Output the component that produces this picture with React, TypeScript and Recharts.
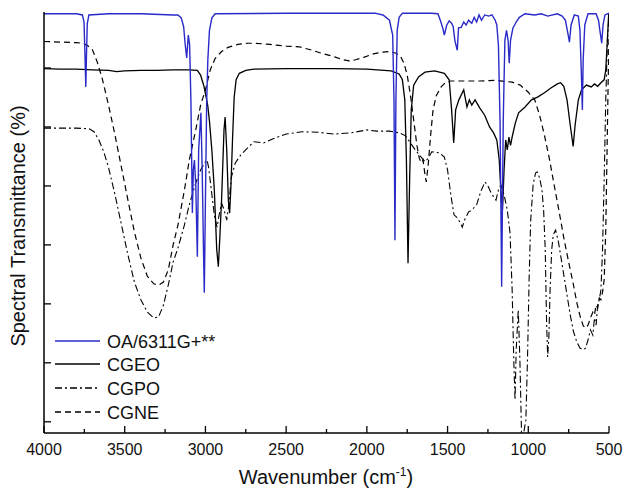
import { LineChart, Line, XAxis, YAxis } from 'recharts';

// [wavenumber (cm-1), transmittance (arbitrary, offset traces)]
const oa6311: [number, number][] = [
  [4000, 69.2], [3800, 69.2], [3762, 69.0], [3752, 67.8], [3746, 62], [3741, 56.8], [3737, 62], [3732, 67.5],
  [3722, 69], [3600, 69.2], [3400, 69.2], [3200, 69.0], [3170, 69.0], [3150, 68.5], [3135, 67], [3125, 63.9],
  [3116, 61.7], [3106, 65.6], [3098, 63.9], [3090, 54.6], [3081, 35.4], [3075, 42.7], [3068, 44.4], [3060, 40.2],
  [3050, 28], [3042, 46.1], [3028, 52.4], [3020, 42.7], [3012, 29.2], [3007, 21.9], [3000, 37.6], [2992, 54.6],
  [2985, 61.4], [2975, 66.4], [2960, 68.5], [2940, 69.2], [2500, 69.3], [2000, 69.3], [1950, 69.3], [1900, 69.0],
  [1860, 68.1], [1840, 65.6], [1832, 54.6], [1826, 30.8], [1820, 54.6], [1812, 66.4], [1800, 68.6], [1780, 69.3],
  [1600, 69.3], [1560, 69.2], [1545, 68.1], [1530, 66.8], [1520, 65.6], [1505, 67.3], [1490, 68], [1475, 67.6],
  [1465, 67], [1455, 64.7], [1440, 63], [1432, 66.8], [1415, 66.9], [1400, 67.8], [1385, 67.3], [1370, 68.1],
  [1350, 67.6], [1335, 68.6], [1320, 67.8], [1305, 69], [1290, 68.1], [1270, 69], [1245, 68.8], [1225, 69],
  [1205, 68.1], [1195, 67.3], [1185, 63.9], [1175, 51.2], [1165, 22.9], [1155, 51.2], [1145, 64.7], [1135, 66.4],
  [1125, 64.7], [1118, 60.8], [1110, 64.7], [1095, 66.8], [1075, 67.8], [1055, 68.6], [1020, 69.2], [960, 69],
  [920, 69.2], [880, 68.8], [820, 69.2], [790, 68.8], [770, 68.1], [755, 65.9], [745, 64.4], [735, 67.3],
  [715, 69], [690, 68.8], [680, 66.4], [670, 58], [665, 52.9], [660, 61.4], [650, 67.3], [630, 69.2],
  [580, 69.2], [565, 68.1], [555, 66.1], [545, 64.2], [537, 67.3], [525, 69], [500, 69.3],
];

const cgeo: [number, number][] = [
  [4000, 59.9], [3900, 59.8], [3800, 59.8], [3700, 59.7], [3600, 59.6], [3550, 59.4], [3500, 59.5], [3400, 59.6],
  [3300, 59.6], [3200, 59.7], [3100, 59.7], [3050, 59.6], [3030, 58.8], [3010, 57], [2995, 55], [2985, 53.5],
  [2975, 51], [2960, 46], [2945, 39.3], [2930, 29.2], [2920, 26.3], [2910, 31.7], [2900, 37.6], [2885, 49.5],
  [2878, 51.7], [2868, 46.1], [2858, 37.6], [2850, 35.4], [2842, 40], [2832, 48], [2822, 55], [2810, 58],
  [2790, 59.1], [2750, 59.6], [2700, 59.8], [2500, 59.9], [2200, 59.9], [2000, 59.8], [1850, 59.5], [1800, 59],
  [1780, 58], [1765, 54.6], [1755, 44.4], [1745, 26.9], [1735, 41], [1725, 52.9], [1710, 57.1], [1680, 58.5],
  [1640, 59.3], [1580, 59.5], [1520, 59.1], [1490, 58], [1475, 52.9], [1462, 47.3], [1450, 52.9], [1430, 54.6],
  [1400, 56.3], [1380, 53.4], [1365, 54.6], [1350, 53.7], [1330, 54.6], [1300, 53.2], [1270, 52], [1240, 50],
  [1215, 49], [1195, 47.8], [1180, 44.4], [1170, 39.3], [1160, 35.9], [1150, 42.7], [1140, 47.8], [1130, 46.1],
  [1120, 48.3], [1110, 46.9], [1100, 48.3], [1080, 50.7], [1060, 52.4], [1020, 53.4], [980, 54.6], [940, 55.1],
  [900, 55.8], [860, 56.6], [820, 57.3], [800, 57.5], [780, 56.9], [760, 54.6], [740, 50.3], [722, 46.7],
  [710, 50.3], [690, 54.6], [670, 56.3], [640, 57.1], [610, 56.8], [590, 57.3], [570, 56.9], [550, 57.5],
  [530, 58], [520, 59.7], [510, 64.7], [502, 69.2],
];

const cgpo: [number, number][] = [
  [4000, 49.8], [3800, 49.8], [3720, 49.7], [3690, 49.2], [3660, 47.8], [3630, 45.8], [3600, 43.1], [3560, 38.5],
  [3520, 33.4], [3480, 28.3], [3440, 23.7], [3400, 20.7], [3360, 18.6], [3320, 17.6], [3290, 17.8], [3260, 19.8],
  [3230, 23.2], [3200, 27.1], [3170, 29.5], [3130, 33.4], [3100, 36.8], [3060, 40.5], [3030, 42.7], [3000, 44.1],
  [2990, 44.4], [2980, 43.1], [2960, 38.5], [2945, 35.1], [2928, 33], [2915, 35.1], [2900, 37.1], [2885, 36],
  [2868, 34.2], [2855, 36.8], [2840, 41.4], [2815, 43.9], [2780, 45.3], [2740, 46.4], [2700, 47.5], [2640, 47.3],
  [2580, 48], [2500, 48.8], [2400, 49.2], [2300, 49.1], [2200, 48.8], [2100, 49], [2000, 49.5], [1940, 49.3],
  [1860, 49.3], [1800, 49], [1760, 48.5], [1730, 47.3], [1700, 46.1], [1670, 45.1], [1640, 44.1], [1620, 44.7],
  [1598, 45.8], [1550, 45.6], [1520, 44.9], [1500, 42.7], [1480, 38.5], [1460, 35.1], [1440, 34.6], [1420, 33.7],
  [1409, 33], [1395, 34.2], [1370, 35.6], [1350, 35.9], [1320, 36.8], [1295, 39], [1268, 40.7], [1250, 40],
  [1230, 38.8], [1200, 37.6], [1185, 39.3], [1170, 40.2], [1150, 38.5], [1130, 35.9], [1113, 32], [1100, 22.4],
  [1090, 10.5], [1082, 3.7], [1075, 12.2], [1062, 19], [1052, 10.5], [1042, -1.8], [1028, -1.8], [1015, 0.3],
  [1005, 10.5], [995, 24.1], [985, 34.2], [970, 40.2], [955, 42.2], [945, 42.4], [930, 41.4], [915, 39.3],
  [905, 35.9], [895, 29.2], [887, 17.3], [880, 11], [872, 14.7], [865, 22.4], [855, 29.2], [845, 31.7],
  [831, 32.5], [815, 30.8], [800, 28.3], [780, 24.9], [760, 21.5], [740, 18.1], [720, 15.3], [700, 13.6],
  [680, 12.5], [660, 12.2], [645, 12.5], [630, 13.9], [615, 15.6], [600, 14.7], [590, 17.6], [580, 16.4],
  [570, 19.8], [560, 20.7], [550, 22.4], [540, 29.2], [530, 41], [520, 54.6], [510, 64.7], [502, 68.1],
];

const cgne: [number, number][] = [
  [4000, 64.5], [3900, 64.4], [3800, 64.3], [3760, 64.2], [3730, 63.8], [3700, 63.1], [3670, 61], [3640, 58.3],
  [3600, 53.7], [3560, 48.6], [3520, 43.1], [3480, 37.6], [3440, 32.2], [3400, 27.8], [3360, 24.7], [3320, 23.4],
  [3290, 23.2], [3260, 23.7], [3230, 25.8], [3200, 30], [3170, 33.4], [3130, 39.3], [3100, 44.4], [3060, 49.5],
  [3030, 53.7], [3000, 56.3], [2970, 59.7], [2940, 61.6], [2900, 62.8], [2860, 63.5], [2800, 64], [2740, 64.2],
  [2690, 64.2], [2600, 64], [2500, 63.7], [2420, 63.6], [2350, 63.1], [2280, 62.5], [2200, 61.9], [2150, 61.4],
  [2110, 61.2], [2070, 61.4], [2020, 61.8], [1960, 62.4], [1900, 62.7], [1860, 62.8], [1820, 62.5], [1790, 61.9],
  [1770, 60.8], [1750, 58.8], [1730, 55.4], [1710, 51.2], [1690, 46.9], [1675, 44.7], [1662, 43.9], [1652, 44.4],
  [1640, 41.9], [1632, 40.7], [1620, 43.6], [1605, 48.6], [1590, 52.9], [1570, 55.3], [1540, 56.8], [1510, 57.6],
  [1480, 57.8], [1400, 57.8], [1300, 57.8], [1200, 57.9], [1100, 57.6], [1050, 57.1], [1000, 55.9], [960, 54.6],
  [930, 52], [900, 48.6], [870, 44.7], [840, 40.2], [810, 35.8], [780, 31.2], [750, 27.1], [720, 23.2],
  [700, 20.3], [680, 18], [660, 16.3], [645, 15.9], [630, 16.4], [615, 17.6], [600, 18.6], [590, 18.1],
  [580, 19.8], [570, 19.3], [560, 21], [550, 20.7], [540, 22], [530, 24.1], [520, 32.5], [512, 46.1],
  [505, 58], [500, 65.6],
];

const xTicks = [4000, 3750, 3500, 3250, 3000, 2750, 2500, 2250, 2000, 1750, 1500, 1250, 1000, 750, 500];
const yTicks = [0, 10, 20, 30, 40, 50, 60];

const FONT = "'Liberation Sans', Arial, sans-serif";

const toRows = (pts: [number, number][]) => pts.map(([w, t]) => ({ w, t }));

// ticks point inward, labels only on the 500 steps
const XTick = ({ x, y, payload }: any) => {
  const major = payload.value % 500 === 0;
  return (
    <g>
      <line x1={x} x2={x} y1={y} y2={y - (major ? 7 : 4)} stroke='#000' strokeWidth={1.3} />
      {major && (
        <text x={x} y={y + 22} textAnchor='middle' fontSize={16} fontFamily={FONT} fill='#111'>
          {payload.value}
        </text>
      )}
    </g>
  );
};

const YTick = ({ x, y }: any) => <line x1={x} x2={x + 7} y1={y} y2={y} stroke='#000' strokeWidth={1.3} />;

const legendItems = [
  { name: 'OA/6311G+**', color: '#2a2ac8', dash: undefined },
  { name: 'CGEO', color: '#000', dash: undefined },
  { name: 'CGPO', color: '#000', dash: '7 3 2 3' },
  { name: 'CGNE', color: '#000', dash: '6 4' },
];

const App = () => {
  return (
    <div style={{ position: 'absolute', left: 0, top: 0, width: 624, height: 491, background: '#fff', fontFamily: FONT }}>
      <LineChart width={624} height={491} margin={{ top: 12, right: 15, bottom: 54, left: 40 }}>
        <XAxis
          type='number'
          dataKey='w'
          domain={[500, 4000]}
          reversed
          allowDataOverflow
          ticks={xTicks}
          interval={0}
          height={4}
          tickSize={0}
          tickMargin={0}
          tickLine={false}
          tick={<XTick />}
          axisLine={{ stroke: '#000', strokeWidth: 1.5 }}
        />
        <YAxis
          type='number'
          domain={[-1.9, 69.5]}
          allowDataOverflow
          ticks={yTicks}
          interval={0}
          width={4}
          tickSize={0}
          tickMargin={0}
          tickLine={false}
          tick={<YTick />}
          axisLine={{ stroke: '#000', strokeWidth: 1.5 }}
        />
        <Line data={toRows(cgne)} dataKey='t' stroke='#000' strokeWidth={1.2} strokeDasharray='6 4' dot={false} isAnimationActive={false} />
        <Line data={toRows(cgpo)} dataKey='t' stroke='#000' strokeWidth={1.1} strokeDasharray='7 3 2 3' dot={false} isAnimationActive={false} />
        <Line data={toRows(cgeo)} dataKey='t' stroke='#000' strokeWidth={1.3} dot={false} isAnimationActive={false} />
        <Line data={toRows(oa6311)} dataKey='t' stroke='#2a2ac8' strokeWidth={1.4} dot={false} isAnimationActive={false} />
      </LineChart>

      <svg style={{ position: 'absolute', left: 0, top: 0 }} width={624} height={491} pointerEvents='none'>
        {legendItems.map((item, i) => {
          const cy = [341, 364, 388, 412][i];
          return (
            <g key={item.name}>
              <line x1={55} x2={100} y1={cy} y2={cy} stroke={item.color} strokeWidth={1.4} strokeDasharray={item.dash} />
              <text x={107} y={cy + 6.5} fontSize={18} fontFamily={FONT} fill='#111'>
                {item.name}
              </text>
            </g>
          );
        })}
      </svg>

      <div style={{ position: 'absolute', left: 0, width: 652, top: 465, textAlign: 'center', fontSize: 20, color: '#111' }}>
        Wavenumber (cm<sup style={{ fontSize: 12 }}>-1</sup>)
      </div>
      <div
        style={{
          position: 'absolute',
          left: 18,
          top: 226,
          transform: 'translate(-50%, -50%) rotate(-90deg)',
          whiteSpace: 'nowrap',
          fontSize: 20,
          color: '#111',
        }}
      >
        Spectral Transmittance (%)
      </div>
    </div>
  );
};

export default App;
